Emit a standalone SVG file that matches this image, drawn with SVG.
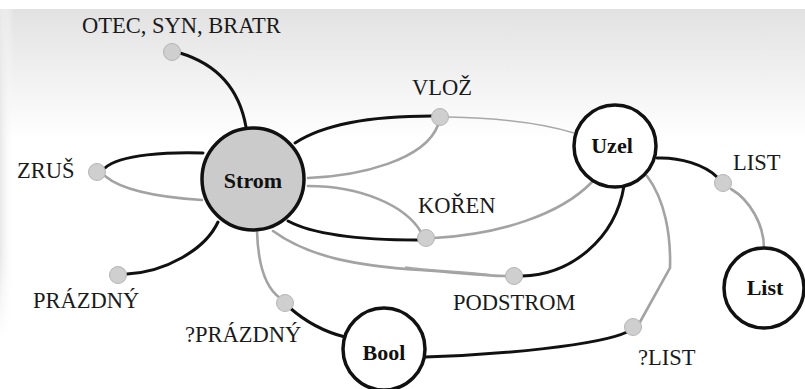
<svg xmlns="http://www.w3.org/2000/svg" width="805" height="389" viewBox="0 0 805 389">
  <defs>
    <linearGradient id="paperShade" x1="0" y1="0" x2="0" y2="1">
      <stop offset="0" stop-color="#e2e2e2"/>
      <stop offset="0.45" stop-color="#efefef"/>
      <stop offset="1" stop-color="#ffffff"/>
    </linearGradient>
    <linearGradient id="edgeShade" x1="0" y1="0" x2="1" y2="0">
      <stop offset="0" stop-color="#e8e8e8"/>
      <stop offset="1" stop-color="#ffffff" stop-opacity="0"/>
    </linearGradient>
    <linearGradient id="edgeFade" x1="0" y1="0" x2="0" y2="1">
      <stop offset="0" stop-color="#fff"/>
      <stop offset="0.75" stop-color="#fff"/>
      <stop offset="1" stop-color="#000"/>
    </linearGradient>
    <mask id="edgeMask">
      <rect x="0" y="9" width="14" height="330" fill="url(#edgeFade)"/>
    </mask>
  </defs>
  <style>
    .label { font-family: "Liberation Serif", "Times New Roman", serif; font-size: 22.5px; fill: #1a1a1a; }
    .title { font-family: "Liberation Serif", "Times New Roman", serif; font-size: 22px; font-weight: bold; fill: #111; text-anchor: middle; }
    .sort { stroke: #111; stroke-width: 3.5; }
    .sort-main { fill: #cbcbcb; }
    .sort-plain { fill: #ffffff; }
    .op { fill: #cfcfcf; stroke: #b5b5b5; stroke-width: 1; }
    .arg { fill: none; stroke: #111; stroke-width: 3; stroke-linecap: round; }
    .res { fill: none; stroke: #a3a3a3; stroke-width: 2.6; stroke-linecap: round; }
    .thin { fill: none; stroke: #a8a8a8; stroke-width: 1.4; }
  </style>

  <!-- page background -->
  <rect width="805" height="389" fill="#ffffff"/>
  <rect x="0" y="9" width="805" height="130" fill="url(#paperShade)"/>
  <rect x="0" y="9" width="14" height="330" fill="url(#edgeShade)" mask="url(#edgeMask)"/>

  <!-- connectors: black = argument sorts, gray = result sorts -->
  <g id="connectors">
    <!-- OTEC, SYN, BRATR -->
    <path class="arg" d="M180,53 Q236,70 246,127"/>
    <!-- VLOŽ -->
    <path class="arg" d="M295,143 C330,120 390,116 432,116"/>
    <path class="res" d="M438,125 C425,160 360,176 308,178"/>
    <path class="thin" d="M448,117 C500,118 545,124 574,133"/>
    <path class="thin" d="M622,160 L643,170" stroke-dasharray="4 3" opacity="0.6"/>
    <!-- ZRUŠ -->
    <path class="arg" d="M105,168 C120,154 170,152 203,153"/>
    <path class="res" d="M105,176 C125,193 170,198 202,200"/>
    <!-- PRÁZDNÝ -->
    <path class="arg" d="M127,274 C165,272 205,250 218,222"/>
    <!-- ?PRÁZDNÝ -->
    <path class="res" d="M257,231 C258,265 266,288 280,298"/>
    <path class="arg" d="M290,308 C306,322 325,332 345,337"/>
    <!-- KOŘEN -->
    <path class="arg" d="M288,221 C320,238 380,240 418,240"/>
    <path class="res" d="M308,186 C360,186 405,205 421,232"/>
    <path class="res" d="M434,238 C500,234 560,215 592,182"/>
    <!-- PODSTROM -->
    <path class="res" d="M273,231 C310,258 360,266 420,270 C460,273 490,276 506,276"/>
    <path class="thin" d="M405,267 C435,271 465,271 492,275"/>
    <path class="arg" d="M522,276 C570,275 615,240 624,186"/>
    <!-- ?LIST -->
    <path class="arg" d="M425,357 C500,355 600,345 627,332"/>
    <path class="res" d="M647,176 C665,200 671,235 670,268 L640,322"/>
    <!-- LIST -->
    <path class="arg" d="M657,158 C680,157 705,165 717,177"/>
    <path class="res" d="M731,189 C750,200 764,225 764,248"/>
  </g>

  <!-- sort nodes -->
  <g id="node-strom">
    <circle class="sort sort-main" cx="253" cy="179" r="51"/>
    <text class="title" x="253" y="188">Strom</text>
  </g>
  <g id="node-uzel">
    <circle class="sort sort-plain" cx="615" cy="146" r="41"/>
    <text class="title" x="612" y="153">Uzel</text>
  </g>
  <g id="node-list">
    <circle class="sort sort-plain" cx="764" cy="288" r="40"/>
    <text class="title" x="765" y="295">List</text>
  </g>
  <g id="node-bool">
    <circle class="sort sort-plain" cx="384" cy="349" r="41"/>
    <text class="title" x="384" y="360">Bool</text>
  </g>

  <!-- operation nodes -->
  <g id="op-otec">
    <circle class="op" cx="172" cy="52" r="8.5"/>
    <text class="label" x="82" y="33">OTEC, SYN, BRATR</text>
  </g>
  <g id="op-vloz">
    <circle class="op" cx="440" cy="117" r="8.5"/>
    <text class="label" x="412" y="95">VLOŽ</text>
  </g>
  <g id="op-zrus">
    <circle class="op" cx="97" cy="172" r="8.5"/>
    <text class="label" x="17" y="178">ZRUŠ</text>
  </g>
  <g id="op-prazdny">
    <circle class="op" cx="118" cy="275" r="8.5"/>
    <text class="label" x="33" y="308">PRÁZDNÝ</text>
  </g>
  <g id="op-je-prazdny">
    <circle class="op" cx="285" cy="303" r="8.5"/>
    <text class="label" x="185" y="342">?PRÁZDNÝ</text>
  </g>
  <g id="op-koren">
    <circle class="op" cx="426" cy="238" r="8.5"/>
    <text class="label" x="418" y="213">KOŘEN</text>
  </g>
  <g id="op-podstrom">
    <circle class="op" cx="514" cy="276" r="8.5"/>
    <text class="label" x="453" y="310">PODSTROM</text>
  </g>
  <g id="op-je-list">
    <circle class="op" cx="633" cy="327" r="8.5"/>
    <text class="label" x="638" y="365">?LIST</text>
  </g>
  <g id="op-list">
    <circle class="op" cx="723" cy="183" r="8.5"/>
    <text class="label" x="733" y="170">LIST</text>
  </g>
</svg>
